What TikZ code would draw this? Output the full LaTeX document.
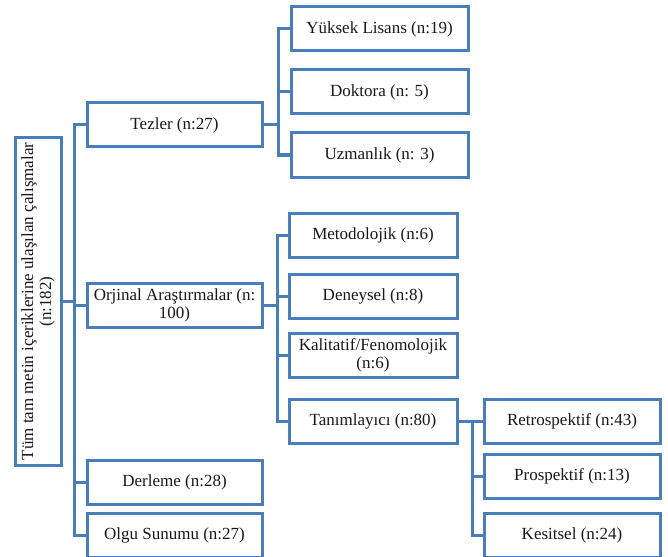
\documentclass[tikz,border=0pt]{standalone}
\usepackage{fontspec}
\setmainfont{Liberation Serif}
\usepackage{xcolor}
\usetikzlibrary{positioning}

\definecolor{azul}{HTML}{4A7EBB}

\begin{document}
\begin{tikzpicture}[
        x=1pt, y=-1pt,
        on grid,
        every node/.style={font=\fontsize{17}{18}\selectfont, text=black!90},
        caixa/.style={draw=azul, line width=3pt, fill=white, align=center,
          minimum height=44pt, inner sep=2pt},
        nivel1/.style={caixa, minimum width=175pt},
        nivel2/.style={caixa, minimum width=177pt},
        nivel3/.style={caixa, minimum width=168pt},
        nivel4/.style={caixa, minimum width=176pt},
        raiz/.style={caixa, rotate=90, minimum width=327pt, minimum height=46pt},
        ligacao/.style={draw=azul, line width=3pt},
      ]
      \useasboundingbox (0,0) rectangle (668,556);

      % Raiz
      \node[raiz] (root) at (38,301.5) {Tüm tam metin içeriklerine ulaşılan çalışmalar\\(n:182)};

      % Nivel 1
      \node[nivel1] (tez) at (174.5,125) {Tezler (n:27)};
      \node[nivel1, below=180pt of tez] (orj) {Orjinal Araştırmalar (n:\\100)};
      \node[nivel1, below=177pt of orj] (der) {Derleme (n:28)};
      \node[nivel1, below=53pt of der]  (olg) {Olgu Sunumu (n:27)};

      % Tezler
      \node[nivel2] (yl) at (379.5,29) {Yüksek Lisans (n:19)};
      \node[nivel2, below=63pt of yl]  (dok) {Doktora (n: 5)};
      \node[nivel2, below=63pt of dok] (uzm) {Uzmanlık (n: 3)};

      % Orjinal arastirmalar
      \node[nivel3] (met) at (373,235) {Metodolojik (n:6)};
      \node[nivel3, below=61.5pt of met] (den) {Deneysel (n:8)};
      \node[nivel3, below=58.5pt of den] (kal) {Kalitatif/Fenomolojik\\(n:6)};
      \node[nivel3, below=66pt of kal]   (tan) {Tanımlayıcı (n:80)};

      % Tanimlayici
      \node[nivel4, right=199pt of tan]  (ret) {Retrospektif (n:43)};
      \node[nivel4, below=55.5pt of ret] (pro) {Prospektif (n:13)};
      \node[nivel4, below=58.5pt of pro] (kes) {Kesitsel (n:24)};

      % Ligacoes
      \foreach \n in {tez, orj, der, olg}
        \draw[ligacao] (root.south) -- ++(12,0) |- (\n.west);
      \foreach \n in {yl, dok, uzm}
        \draw[ligacao] (tez.east) -- ++(15,0) |- (\n.west);
      \foreach \n in {met, den, kal, tan}
        \draw[ligacao] (orj.east) -- ++(14,0) |- (\n.west);
      \foreach \n in {ret, pro, kes}
        \draw[ligacao] (tan.east) -- ++(14,0) |- (\n.west);

    \end{tikzpicture}
\end{document}
